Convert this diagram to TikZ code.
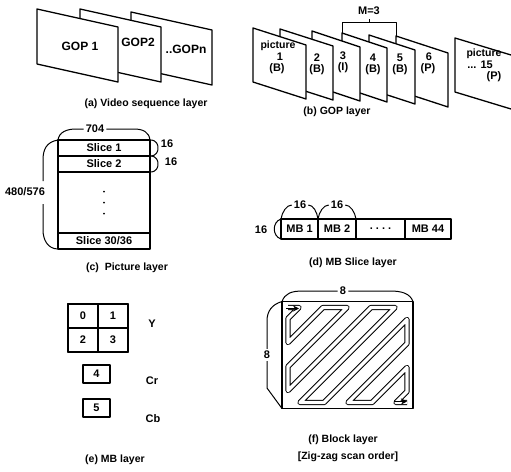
\documentclass[tikz,border=0pt]{standalone}
\usepackage{fontspec}
\setmainfont{Liberation Sans}
\usetikzlibrary{positioning, arrows.meta, calc}

% tilted sheet: name, x, y, width, skew, height
\newcommand{\tiltsheet}[6]{%
  \coordinate (#1) at (#2,#3);
  \filldraw[sheet] (#1) -- ++(#4,#5) -- ++(0,#6) -- ++(-#4,-#5) -- cycle;}

\begin{document}
\begin{tikzpicture}[
    x=1pt, y=-1pt, font=\bfseries, >=Stealth, line join=round,
    sheet/.style   ={draw, fill=white, line width=1.3pt},
    txt/.style     ={inner sep=0pt, font=\fontsize{11}{12}\selectfont\bfseries},
    gop_txt/.style ={inner sep=0pt, font=\fontsize{12}{13}\selectfont\bfseries},
    dimlbl/.style  ={inner sep=2pt, font=\fontsize{11}{12}\selectfont\bfseries},
    caption/.style ={inner sep=0pt, font=\fontsize{10.5}{12}\selectfont\bfseries},
    cellbox/.style ={draw, line width=1.4pt, inner sep=0pt, outer sep=0pt, font=\fontsize{11}{12}\selectfont\bfseries},
    dim/.style     ={line width=1pt},
    zigzag/.style  ={double, double distance=3.4pt, line width=1pt},
    zzarrow/.style ={-{Stealth[length=6pt, width=6pt]}, line width=1.4pt}
]
\useasboundingbox (0,0) rectangle (511,471);

% (a) video sequence layer
\tiltsheet{gop3}{131}{12}{81}{18}{55}
\tiltsheet{gop2}{80}{9}{81}{18}{55}
\tiltsheet{gop1}{37}{9}{81}{18}{55}
\node[gop_txt] (gop1_lbl) at (80,46) {GOP 1};
\node[gop_txt] (gop2_lbl) at (138,42) {GOP2};
\node[gop_txt] (gopn_lbl) at (186,49) {..GOPn};
\node[caption] (cap_a) at (146,104) {(a) Video sequence layer};

% (b) GOP layer
\tiltsheet{pic6}{396}{36}{52}{17}{54}
\tiltsheet{pic5}{369}{35}{46}{15}{54}
\tiltsheet{pic4}{342}{33}{45}{15}{54}
\tiltsheet{pic3}{312}{31}{48}{16}{54}
\tiltsheet{pic2}{280}{29}{53}{17}{54}
\tiltsheet{pic1}{253}{28}{53}{17}{54}
\coordinate (pic15) at (455,38);
\filldraw[sheet] (511,55) -- (pic15) -- ++(0,54) -- (511,109);

\node[txt, font=\fontsize{10.5}{12}\selectfont\bfseries] (p1_a) at (278,46) {picture};
\node[txt] (p1_b) at (280,57) {1};
\node[txt] (p1_c) at (277,69) {(B)};
\node[txt] (p2_a) at (317,58) {2};
\node[txt] (p2_b) at (317,70) {(B)};
\node[txt] (p3_a) at (343,56) {3};
\node[txt] (p3_b) at (343,68) {(I)};
\node[txt] (p4_a) at (373,58) {4};
\node[txt] (p4_b) at (373,70) {(B)};
\node[txt] (p5_a) at (400,58) {5};
\node[txt] (p5_b) at (400,70) {(B)};
\node[txt] (p6_a) at (429,57) {6};
\node[txt] (p6_b) at (428,69) {(P)};
\node[txt, font=\fontsize{10.5}{12}\selectfont\bfseries] (p15_a) at (484,54) {picture};
\node[txt] (p15_b) at (480,65) {... 15};
\node[txt] (p15_c) at (494,77) {(P)};

\node[txt] (m_lbl) at (369,11) {M=3};
\draw[dim] (pic4) -- ++(0,-11) coordinate (brk_l) -| (pic6);
\draw[dim] ($(brk_l)!0.5!(brk_l -| pic6)$) -- ++(0,-3);
\node[caption] (cap_b) at (337,112) {(b) GOP layer};

% (c) picture layer
\node[cellbox, minimum width=92pt, minimum height=16pt] (sl1) at (104,148) {Slice 1};
\node[cellbox, minimum width=92pt, minimum height=16pt, below=0pt of sl1] (sl2) {Slice 2};
\node[cellbox, minimum width=92pt, minimum height=61pt, below=0pt of sl2] (sl_dots) {};
\node[cellbox, minimum width=92pt, minimum height=16pt, below=0pt of sl_dots] (sl30) {Slice 30/36};
\foreach \k in {-11,0,11}
  \fill ($(sl_dots.center)+(0,\k)$) circle (1pt);

\node[dimlbl] (w704) at (95,129) {704};
\draw[dim] (sl1.north west) .. controls +(1,-8) and +(-9,0) .. (76,129) -- (w704.west);
\draw[dim] (w704.east) -- (134,129) .. controls +(9,0) and +(-1,-8) .. (sl1.north east);

\node[dimlbl] (w16a) at (167,144) {16};
\node[dimlbl] (w16b) at (171,162) {16};
\draw[dim] (sl1.north east) .. controls +(7,0) and +(0,-3) .. ($(sl1.east)+(8,0)$)
    .. controls +(0,3) and +(7,0) .. (sl1.south east);
\draw[dim] (sl2.north east) .. controls +(7,0) and +(0,-3) .. ($(sl2.east)+(8,0)$)
    .. controls +(0,3) and +(7,0) .. (sl2.south east);

\node[dimlbl] (h480) at (25,192) {480/576};
\draw[dim] (sl1.north west) .. controls +(-12,2) and +(0,-10) .. (43,160) -- (43,181);
\draw[dim] (43,204) -- (43,230) .. controls +(0,10) and +(-10,0) .. (sl30.south west);
\node[caption] (cap_c) at (127,268) {(c)\ \ Picture layer};

% (d) MB slice layer
\node[cellbox, minimum width=37pt, minimum height=20pt] (mb1) at (299.5,229) {MB 1};
\node[cellbox, minimum width=38pt, minimum height=20pt, right=0pt of mb1] (mb2) {MB 2};
\node[cellbox, minimum width=49pt, minimum height=20pt, right=0pt of mb2] (mbdots) {.\ .\ .\ .};
\node[cellbox, minimum width=46pt, minimum height=20pt, right=0pt of mbdots] (mb44) {MB 44};

\node[dimlbl] (w16c) at (300,205) {16};
\node[dimlbl] (w16d) at (337,205) {16};
\draw[dim] (mb1.north west) .. controls +(1,-7) and +(-5,0) .. (w16c.west);
\draw[dim] (w16c.east) .. controls +(5,0) and +(-1,-7) .. (mb1.north east);
\draw[dim] (mb2.north west) .. controls +(1,-7) and +(-5,0) .. (w16d.west);
\draw[dim] (w16d.east) .. controls +(5,0) and +(-1,-7) .. (mb2.north east);

\node[dimlbl] (h16) at (261,230) {16};
\draw[dim] (mb1.north west) .. controls +(-9,3) and +(-9,-3) .. (mb1.south west);
\node[caption] (cap_d) at (353,263) {(d) MB Slice layer};

% (e) MB layer
\node[cellbox, minimum width=30pt, minimum height=24pt] (y0) at (83,316) {0};
\node[cellbox, minimum width=30pt, minimum height=24pt, right=0pt of y0] (y1) {1};
\node[cellbox, minimum width=30pt, minimum height=24pt, below=0pt of y0] (y2) {2};
\node[cellbox, minimum width=30pt, minimum height=24pt, right=0pt of y2] (y3) {3};
\draw[line width=1.8pt] (y0.north west) rectangle (y3.south east);
\node[txt] (y_lbl) at (152,324) {Y};

\node[cellbox, minimum width=27pt, minimum height=18pt] (cr_box) at (96.5,374) {4};
\node[txt] (cr_lbl) at (152,381) {Cr};
\node[cellbox, minimum width=27pt, minimum height=18pt] (cb_box) at (96.5,408) {5};
\node[txt] (cb_lbl) at (153,419) {Cb};
\node[caption] (cap_e) at (115,460) {(e) MB layer};

% (f) block layer
\node[draw, line width=1.6pt, minimum width=131pt, minimum height=107pt,
      inner sep=0pt, outer sep=0pt] (blk) at (347.5,355) {};
\begin{scope}[shift={(blk.north west)}]
  \draw[zigzag] (6,6) -- (17,6) -- (6,17) -- (6,41) -- (41,6) -- (65,6) -- (6,65)
      -- (6,89) -- (89,6) -- (113,6) -- (18,101) -- (42,101) -- (125,18) -- (125,42)
      -- (66,101) -- (90,101) -- (125,66) -- (125,90) -- (114,101) -- (125,101);
  \draw[zzarrow] (4,7) -- (17,7);
  \draw[zzarrow] (112,100) -- (125,100);
\end{scope}

\node[dimlbl] (w8) at (343,291) {8};
\draw[dim] (blk.north west) .. controls +(3,-8) and +(-12,0) .. (303,291) -- (w8.west);
\draw[dim] (w8.east) -- (390,291) .. controls +(12,0) and +(-3,-8) .. (blk.north east);
\node[dimlbl] (h8) at (267,355) {8};
\draw[dim] (blk.north west) .. controls +(-10,3) and +(0,-10) .. (267,321) -- (h8.north);
\draw[dim] (h8.south) -- (267,388) -- (blk.south west);

\node[caption] (cap_f) at (343,440) {(f) Block layer};
\node[caption] (cap_f2) at (348,457) {[Zig-zag scan order]};

\end{tikzpicture}
\end{document}
